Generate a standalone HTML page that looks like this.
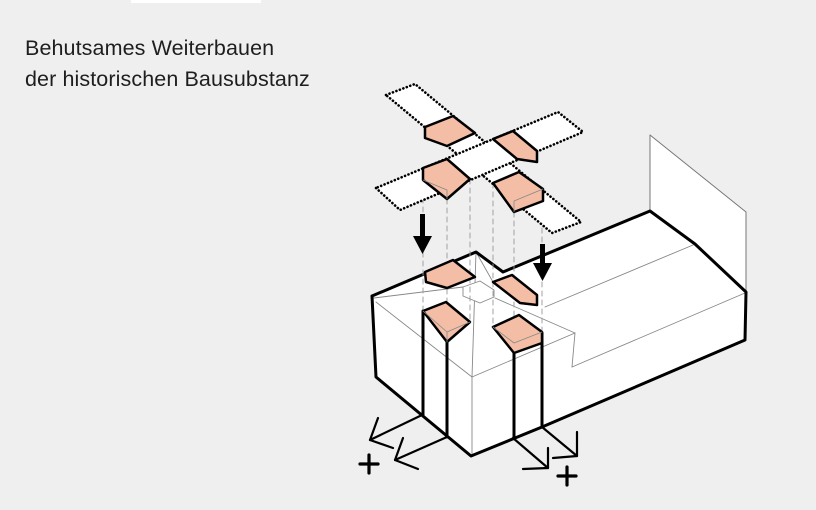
<!DOCTYPE html>
<html><head><style>
html,body{margin:0;padding:0;background:#efefef;}
body{width:816px;height:510px;overflow:hidden;position:relative;font-family:"Liberation Sans",sans-serif;}
.t{position:absolute;left:25px;font-size:21.5px;color:#1e1e1e;letter-spacing:0.1px;}
</style></head><body>
<div style="position:absolute;left:131px;top:0;width:130px;height:3px;background:#fff"></div>
<div class="t" style="top:36px">Behutsames Weiterbauen</div>
<div class="t" style="top:67px">der historischen Bausubstanz</div>
<svg width="816" height="510" style="position:absolute;left:0;top:0" xmlns="http://www.w3.org/2000/svg">
<g stroke-linejoin="round" stroke-linecap="round">
<polygon points="650,135 746,212 746,292 650,211" fill="#fff" stroke="#777" stroke-width="1"/>
<polygon points="372,296 476,252 503,272 650,211 695,244 746,292 745,340 542,427 471,456 376,377" fill="#fff" stroke="none"/>
<g stroke="#888" stroke-width="0.9" fill="none">
<line x1="374" y1="298" x2="463" y2="287"/>
<line x1="376" y1="302" x2="472" y2="377"/>
<line x1="476" y1="252" x2="472" y2="377"/>
<line x1="472" y1="456" x2="472" y2="377"/>
<line x1="472" y1="377" x2="575" y2="333"/>
<line x1="495" y1="298" x2="575" y2="333"/>
<line x1="575" y1="333" x2="572" y2="367"/>
<line x1="572" y1="367" x2="745" y2="293"/>
<line x1="545" y1="307" x2="693" y2="245"/>
<line x1="476" y1="252" x2="493" y2="282"/>
<polygon points="463,287 480,281 494,290 494,297 480,303 463,296" fill="#fff"/>
</g>
<g stroke="#000" stroke-width="3" fill="none">
<polyline points="372,296 476,252 503,272 650,211 695,244 746,292 745,340 542,427 471,456 376,377 372,296"/>
<line x1="423" y1="311" x2="423" y2="415"/>
<line x1="447" y1="342" x2="447" y2="437"/>
<line x1="514" y1="353" x2="514" y2="438"/>
<line x1="542" y1="333" x2="542" y2="427"/>
</g>
<g stroke="#999" stroke-width="0.9" stroke-dasharray="5,4">
<line x1="423" y1="180" x2="423" y2="311"/>
<line x1="447" y1="199" x2="447" y2="342"/>
<line x1="470" y1="179" x2="470" y2="320"/>
<line x1="493" y1="183" x2="493" y2="327"/>
<line x1="514" y1="212" x2="514" y2="353"/>
<line x1="542" y1="201" x2="542" y2="333"/>
</g>
<g stroke="#000" stroke-width="2.6" stroke-dasharray="0.1,3.6" fill="#fff">
<polygon points="386,95 415,84 581,222 552,233"/>
<polygon points="376,188 400,210 583,132 558,112"/>
</g>
<g fill="#f3bea5" stroke="#000" stroke-width="2.5">
<polygon points="425,127 453,116 475,133 447,146 425,138"/>
<polygon points="493,139 513,131 537,151 537,162 517,159"/>
<polygon points="423,168 447,159 470,179 447,199 423,180"/>
<polygon points="493,183 519,172 543,189 543,201 514,212"/>
<polygon points="425,272 453,260 475,277 447,288 426,282"/>
<polygon points="493,282 512,275 537,295 537,305 520,303"/>
<polygon points="423,311 446,302 470,322 447,342"/>
<polygon points="493,327 519,315 542,332 542,343 514,353"/>
</g>
<g stroke="#888" stroke-width="0.8" fill="none">
<polyline points="423,180 447,190 447,199"/>
<polyline points="543,189 514,201 514,212"/>
<polyline points="423,311 447,332 470,322"/>
<polyline points="447,332 447,342"/>
<polyline points="542,332 514,343 493,327"/>
</g>
<g fill="#000">
<rect x="420" y="214" width="5" height="24"/>
<polygon points="413,236 432,236 422.5,254"/>
<rect x="540" y="244" width="5" height="22"/>
<polygon points="533,263 552,263 542.5,281"/>
</g>
<g stroke="#000" stroke-width="2.2" fill="none">
<line x1="422" y1="415" x2="370" y2="440"/>
<polyline points="378,418 370,440 393,448"/>
<line x1="447" y1="437" x2="395" y2="460"/>
<polyline points="403,438 395,460 418,469"/>
<line x1="513" y1="438" x2="548" y2="468"/>
<polyline points="523,469 548,468 548,448"/>
<line x1="542" y1="427" x2="577" y2="456"/>
<polyline points="553,458 577,456 577,432"/>
</g>
<g stroke="#000" stroke-width="3.2">
<line x1="360" y1="464" x2="378" y2="464"/><line x1="369" y1="455" x2="369" y2="473"/>
<line x1="558" y1="476" x2="576" y2="476"/><line x1="567" y1="467" x2="567" y2="485"/>
</g>
</g>
</svg>
</body></html>
